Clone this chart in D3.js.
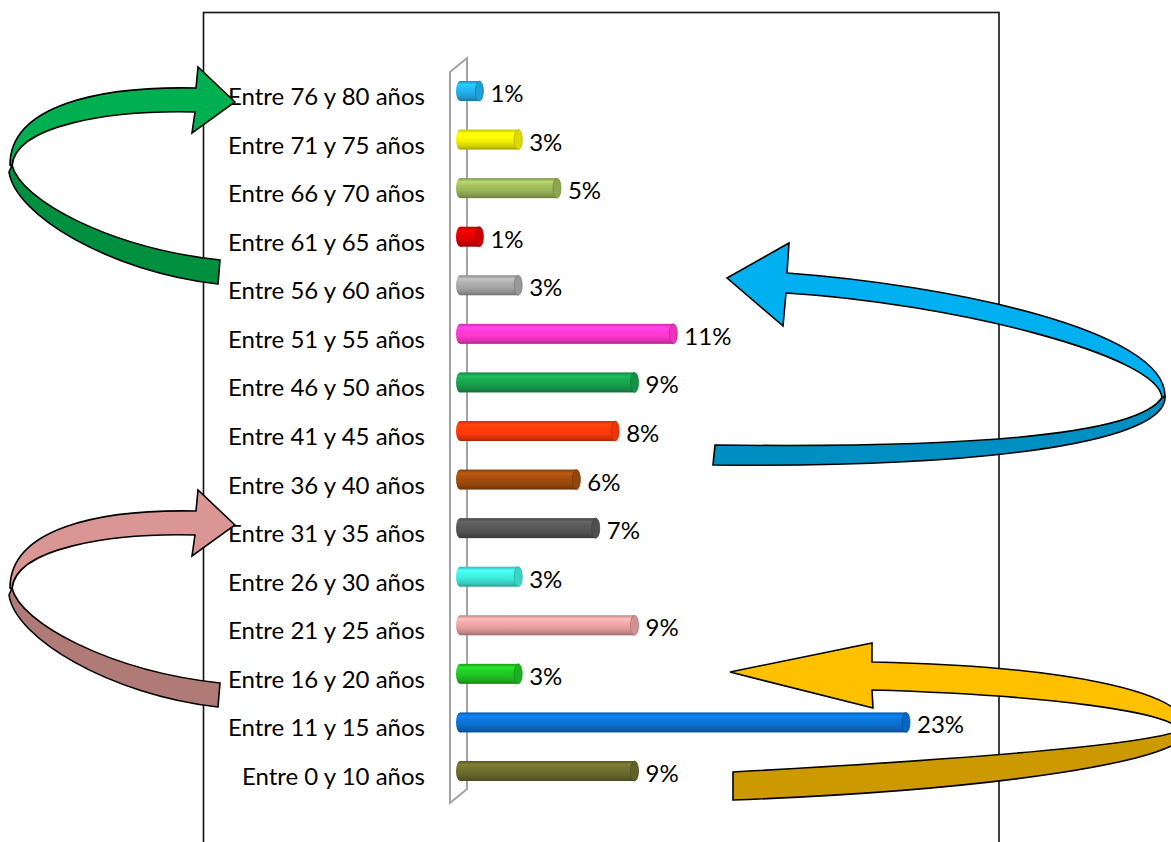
<!DOCTYPE html>
<html lang="es">
<head>
<meta charset="utf-8">
<script src="https://cdn.jsdelivr.net/npm/d3@7/dist/d3.min.js"></script>
<style>
  html, body { margin: 0; padding: 0; background: #ffffff; }
  svg { display: block; }
  .cat { font-family: Lato, "Open Sans", sans-serif; font-size: 24px; fill: #000; }
  .val { font-family: Lato, "Open Sans", sans-serif; font-size: 24px; fill: #000; }
</style>
</head>
<body>
<svg id="chart" width="1171" height="842"></svg>
<script>
// Age groups, bottom to top as they appear on the chart
const categories = [
  "Entre 0 y 10 años", "Entre 11 y 15 años", "Entre 16 y 20 años",
  "Entre 21 y 25 años", "Entre 26 y 30 años", "Entre 31 y 35 años",
  "Entre 36 y 40 años", "Entre 41 y 45 años", "Entre 46 y 50 años",
  "Entre 51 y 55 años", "Entre 56 y 60 años", "Entre 61 y 65 años",
  "Entre 66 y 70 años", "Entre 71 y 75 años", "Entre 76 y 80 años"
];
// Share of people in each group (%)
const values = [9, 23, 3, 9, 3, 7, 6, 8, 9, 11, 3, 1, 5, 3, 1];
// One colour per bar
const colors = [
  "#6b6a2e", "#0a70d0", "#20c224", "#e6a0a0", "#3ee8d8", "#555555",
  "#9e4c0c", "#ff3a0a", "#18a04e", "#ff38cc", "#a6a6a6", "#de0000",
  "#9bb65a", "#f2ee00", "#22aee8"
];

const data = categories.map((c, i) => ({ cat: c, value: values[i], color: colors[i] }));

const svg = d3.select("#chart");
const defs = svg.append("defs");

// Chart frame
svg.append("rect")
  .attr("x", 203.5).attr("y", 12.5)
  .attr("width", 795.5).attr("height", 860)
  .attr("fill", "#ffffff")
  .attr("stroke", "#111").attr("stroke-width", 1.6);

// Scales
const x = d3.scaleLinear().domain([0, 23]).range([460, 906]);
const y = d3.scalePoint().domain(categories.slice().reverse()).range([91, 771]);
const barH = 20, capR = 4;

// 3-D wall behind the category axis
const wallTop = y.range()[0] - 19, wallBot = y.range()[1] + 32, depth = 17, front = x(0) - 10;
svg.append("path")
  .attr("d", `M${front},${wallBot} L${front},${wallTop} L${front + depth},${wallTop - 14}
              L${front + depth},${wallBot - 14} Z`)
  .attr("fill", "none")
  .attr("stroke", "#a3a3a3")
  .attr("stroke-width", 2);

// Cylinder shading per colour
data.forEach((d, i) => {
  const c = d3.color(d.color);
  const g = defs.append("linearGradient")
    .attr("id", "cyl" + i).attr("x1", 0).attr("y1", 0).attr("x2", 0).attr("y2", 1);
  [[0, c.darker(0.6)], [0.18, c.brighter(0.5)], [0.35, c.brighter(0.2)],
   [0.6, c], [0.85, c.darker(0.45)], [1, c.darker(1.1)]]
    .forEach(([o, col]) => g.append("stop").attr("offset", o).attr("stop-color", col));
});

const bars = svg.append("g").selectAll("g.bar")
  .data(data).join("g").attr("class", "bar");

// left rounded end
bars.append("ellipse")
  .attr("cx", x(0)).attr("cy", d => y(d.cat))
  .attr("rx", capR).attr("ry", barH / 2)
  .attr("fill", (d, i) => `url(#cyl${i})`);

// body
bars.append("rect")
  .attr("x", x(0)).attr("y", d => y(d.cat) - barH / 2)
  .attr("width", d => x(d.value) - x(0)).attr("height", barH)
  .attr("fill", (d, i) => `url(#cyl${i})`);

// right end cap
bars.append("ellipse")
  .attr("cx", d => x(d.value)).attr("cy", d => y(d.cat))
  .attr("rx", capR).attr("ry", barH / 2)
  .attr("fill", d => d3.color(d.color).darker(0.25))
  .attr("stroke", d => d3.color(d.color).darker(0.8))
  .attr("stroke-width", 0.8);

// value labels
bars.append("text").attr("class", "val")
  .attr("x", d => x(d.value) + capR + 7)
  .attr("y", d => y(d.cat) + 11)
  .text(d => d.value + "%");

// category labels
svg.append("g").selectAll("text")
  .data(categories).join("text")
  .attr("class", "cat")
  .attr("text-anchor", "end")
  .attr("x", x(0) - 35)
  .attr("y", d => y(d) + 14)
  .text(d => d);

// Decorative curved ribbon arrows
const arrows = svg.append("g").attr("stroke", "#000").attr("stroke-width", 1.6).attr("stroke-linejoin", "miter");

function leftArrow(g, light, dark) {
  g.append("path").attr("fill", dark)
    .attr("d", "M12,165 C20,200 110,248 220,260 L218,284 C110,272 15,215 9,172 Z");
  g.append("path").attr("fill", light)
    .attr("d", "M235,102 L198,67 L196,88 C100,86 10,105 10,165 L12,166 C15,125 110,110 195,112 L192,133 Z");
}
leftArrow(arrows.append("g"), "#00b050", "#00903f");
leftArrow(arrows.append("g").attr("transform", "translate(0,423)"), "#d99694", "#b07a76");

// blue arrow on the right
arrows.append("path").attr("fill", "#008fc2")
  .attr("d", "M1163,396 C1140,438 950,448 715,445 L713,465 C1000,468 1168,440 1165,396 Z");
arrows.append("path").attr("fill", "#00b0f0")
  .attr("d", "M727,278 L789,243 L787,273 C950,285 1165,330 1165,396 L1162,398 C1160,355 950,303 786,293 L783,326 Z");

// yellow arrow at the bottom right
arrows.append("path").attr("fill", "#cc9a00")
  .attr("d", "M1180,730 C1150,745 950,760 733,772 L733,800 C1000,790 1190,760 1188,730 Z");
arrows.append("path").attr("fill", "#ffc000")
  .attr("d", "M730,672 L872,643 L872,662 C1060,666 1188,690 1188,730 L1180,730 C1170,712 1050,695 872,690 L873,708 Z");
</script>
</body>
</html>
